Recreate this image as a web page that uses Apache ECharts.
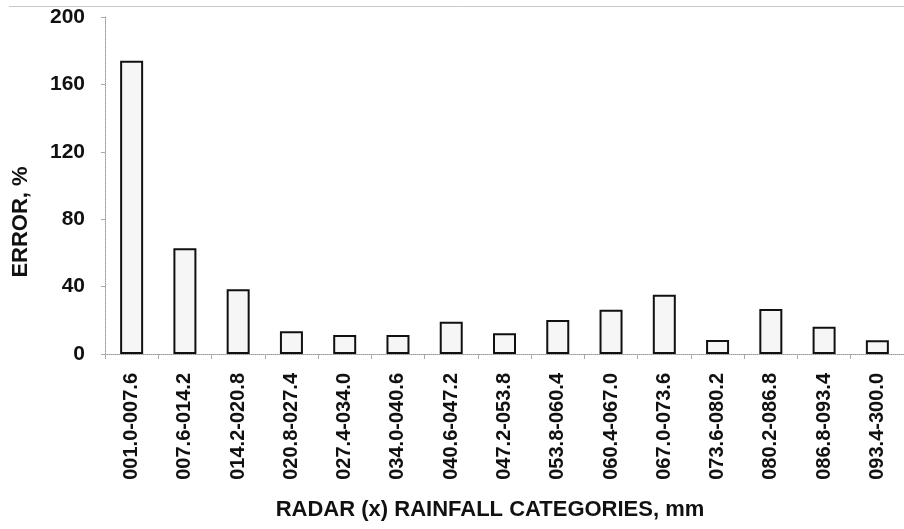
<!DOCTYPE html>
<html>
<head>
<meta charset="utf-8">
<script src="https://cdn.jsdelivr.net/npm/echarts@6/dist/echarts.min.js"></script>
<style>
html,body{margin:0;padding:0;background:#fff;}
#chart{width:904px;height:529px;}
</style>
</head>
<body>
<div id="chart"></div>
<script>
const categories = ['001.0-007.6','007.6-014.2','014.2-020.8','020.8-027.4','027.4-034.0','034.0-040.6','040.6-047.2','047.2-053.8','053.8-060.4','060.4-067.0','067.0-073.6','073.6-080.2','080.2-086.8','086.8-093.4','093.4-300.0'];
const errorValues = [174, 62.7, 38.4, 13.5, 11.3, 11.3, 19.2, 12.3, 20.2, 26.3, 35.2, 8.3, 26.7, 16.2, 8.1];
const yTicks = {min: 0, max: 200, interval: 40};
const xTitle = 'RADAR (x) RAINFALL CATEGORIES, mm';
const yTitle = 'ERROR, %';

const FONT = '"Liberation Sans", Arial, sans-serif';
const chart = echarts.init(document.getElementById('chart'), null, {renderer: 'canvas'});
chart.setOption({
  backgroundColor: '#ffffff',
  animation: false,
  graphic: [
    {type: 'line', shape: {x1: 9, y1: 6.5, x2: 904, y2: 6.5},
     style: {stroke: '#c8c8c8', lineWidth: 1}},
    {type: 'text', x: 490, y: 510,
     style: {text: xTitle, font: 'bold 22px ' + FONT, fill: '#111', align: 'center', verticalAlign: 'middle'}},
    {type: 'text', x: 21, y: 222, rotation: Math.PI / 2,
     style: {text: yTitle, font: 'bold 22px ' + FONT, fill: '#111', align: 'center', verticalAlign: 'middle'}}
  ],
  grid: {left: 105, top: 17, width: 807, height: 337, containLabel: false},
  xAxis: {
    type: 'category',
    data: categories,
    boundaryGap: true,
    axisLine: {lineStyle: {color: '#999', type: 'dotted', width: 1}},
    axisTick: {show: true, interval: 0, length: 5, lineStyle: {color: '#aaa'}},
    axisLabel: {rotate: 90, interval: 0, margin: 19, fontFamily: FONT, fontWeight: 'bold', fontSize: 20, color: '#111'},
    splitLine: {show: false}
  },
  yAxis: {
    type: 'value',
    min: yTicks.min, max: yTicks.max, interval: yTicks.interval,
    axisLine: {show: true, lineStyle: {color: '#999', type: 'dotted', width: 1}},
    axisTick: {show: true, length: 4, lineStyle: {color: '#aaa'}},
    axisLabel: {margin: 20, fontFamily: FONT, fontWeight: 'bold', fontSize: 21, color: '#111'},
    splitLine: {show: false}
  },
  series: [{
    type: 'bar',
    data: errorValues,
    barWidth: 23,
    itemStyle: {color: '#f6f6f6', borderColor: '#111', borderWidth: 2}
  }]
});
</script>
</body>
</html>
